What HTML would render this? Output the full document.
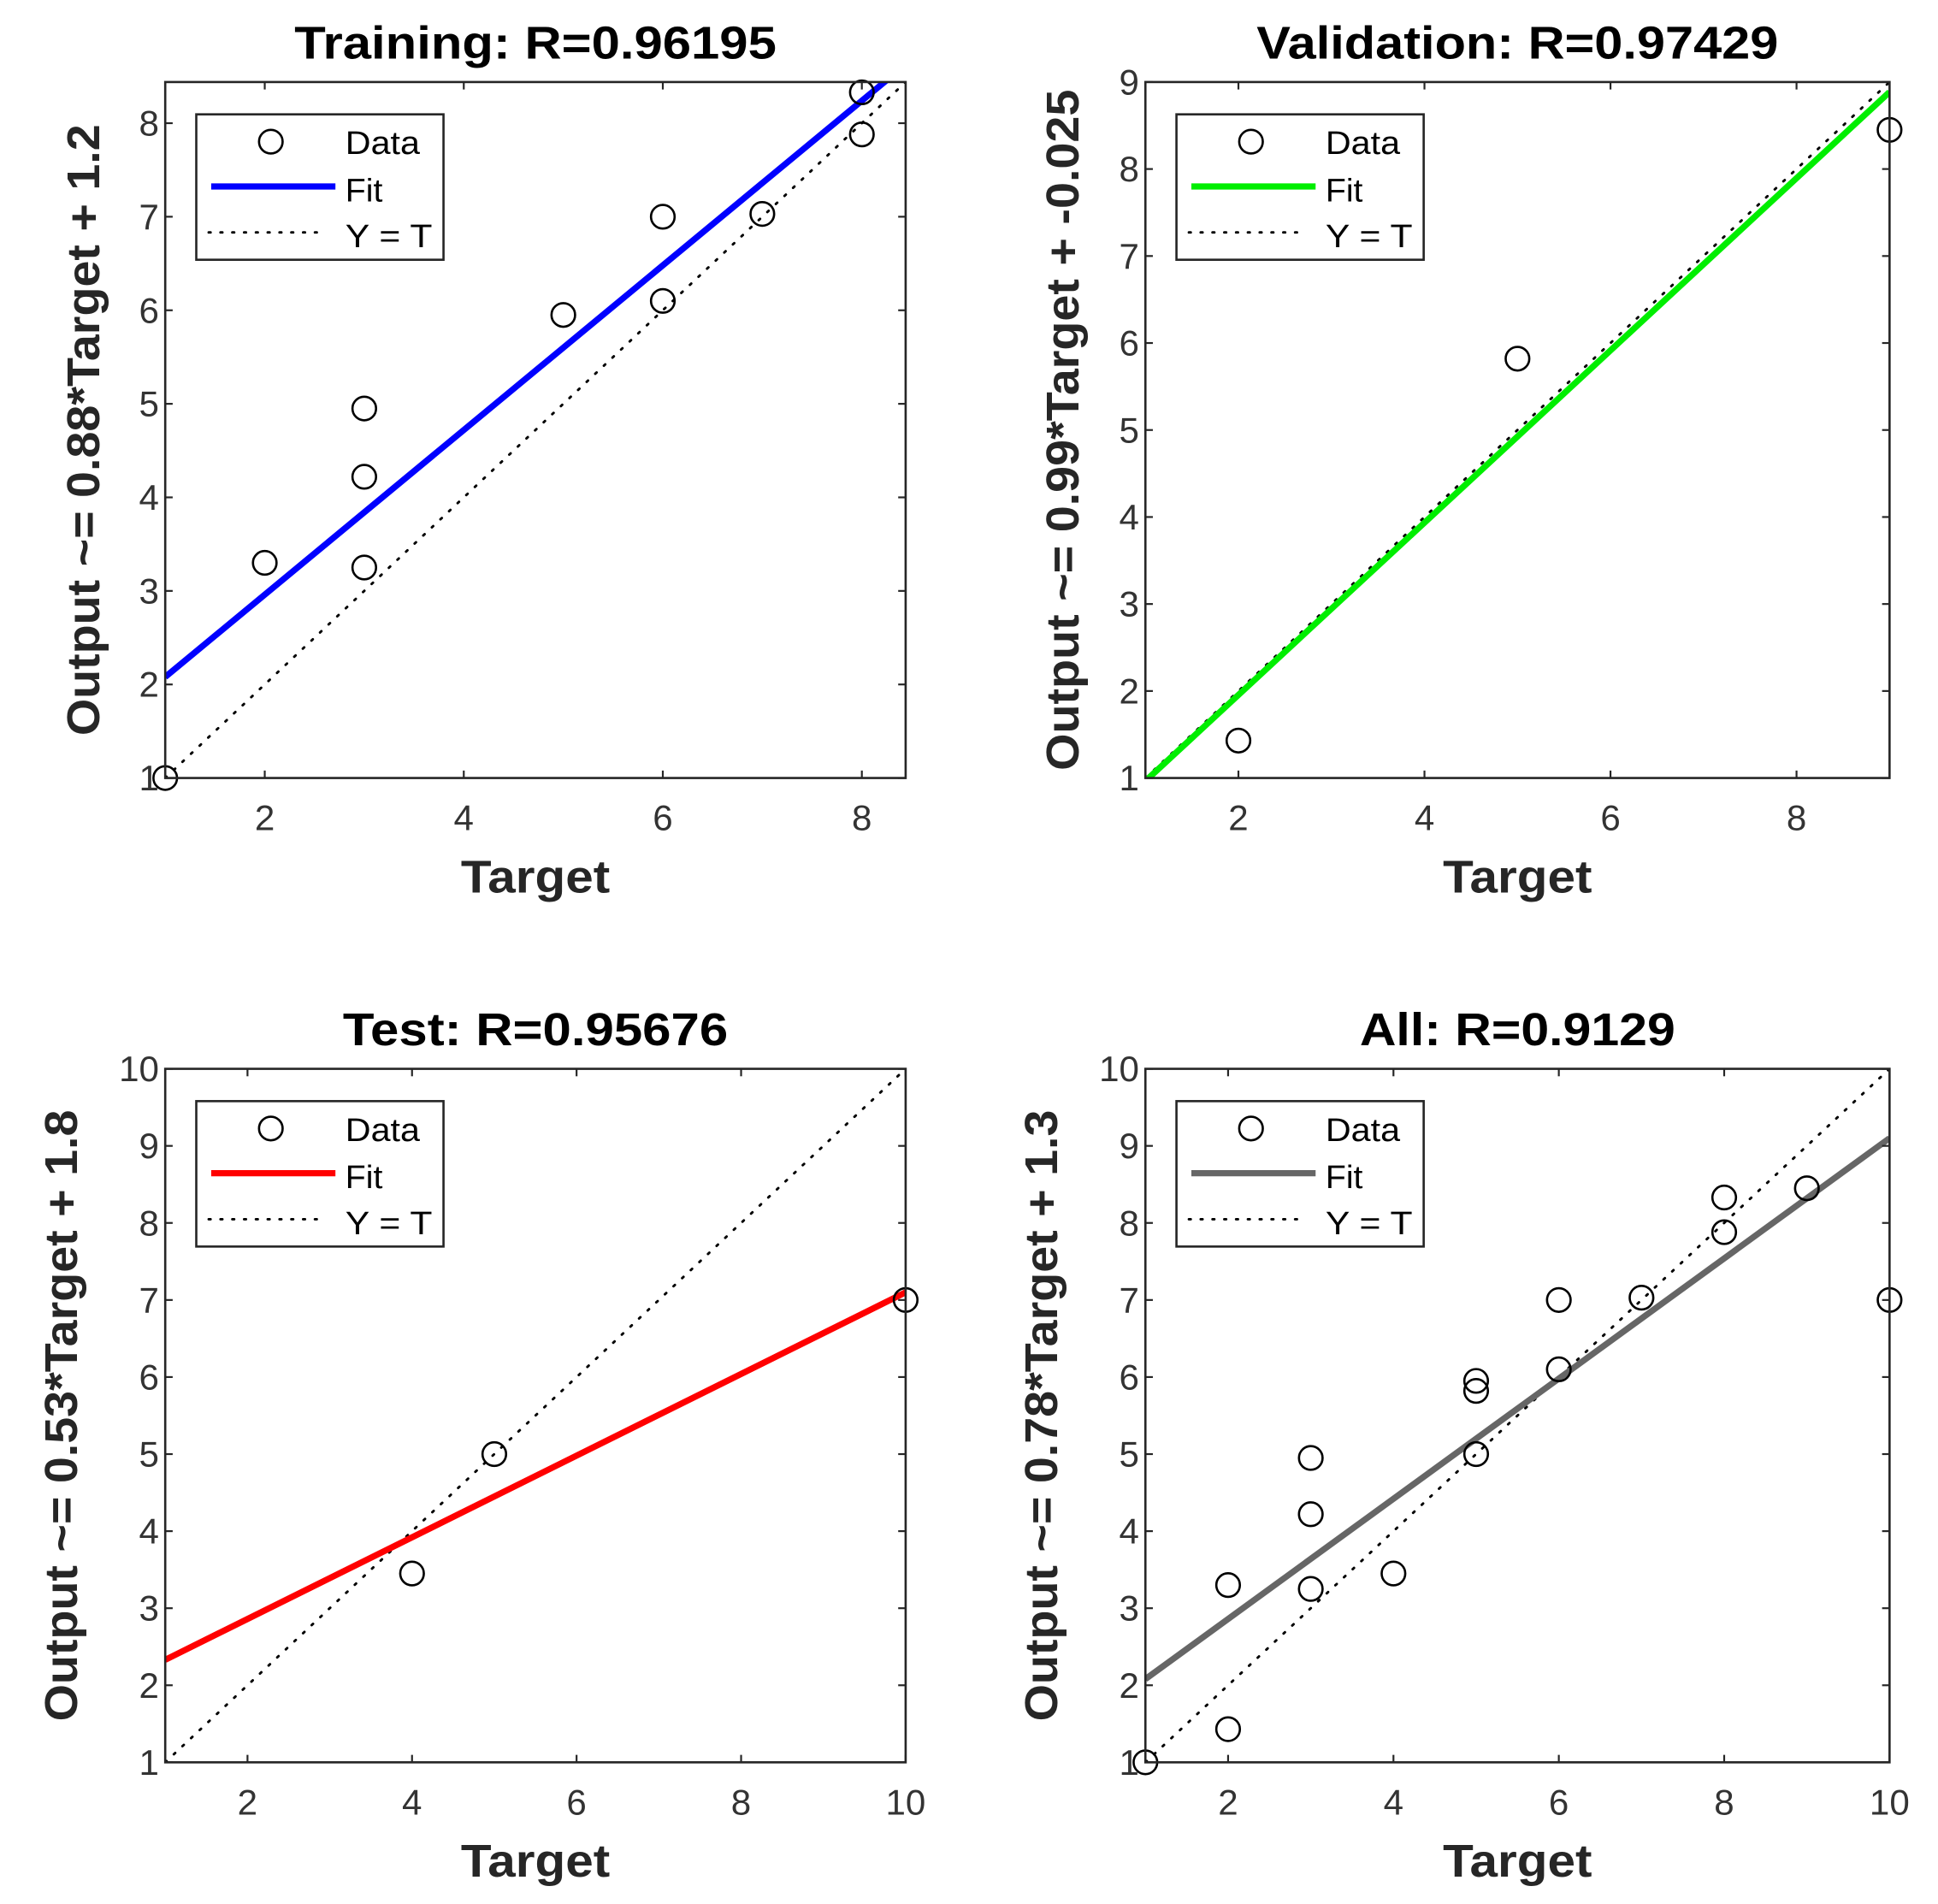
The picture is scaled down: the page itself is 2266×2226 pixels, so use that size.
<!DOCTYPE html>
<html><head><meta charset="utf-8"><style>
html,body{margin:0;padding:0;background:#fff;}
svg{display:block;}
text{font-family:"Liberation Sans",Arial,sans-serif;}
</style></head>
<body>
<svg id="fig" width="2266" height="2226" viewBox="0 0 1560 1532" preserveAspectRatio="none" xmlns="http://www.w3.org/2000/svg"></svg>
<script>
// ---- data ----
const trainX = [1,2,3,3,3,5,6,6,7,8,8];
const trainY = [1,3.3,4.95,4.22,3.25,5.95,7,6.1,7.03,8.33,7.88];
const trainFit = [0.88,1.2];
const valX = [2,5,9];
const valY = [1.43,5.82,8.45];
const valFit = [0.99,-0.025];
const testX = [4,5,10];
const testY = [3.45,5,7];
const testFit = [0.53,1.8];
const allX = [1,2,2,3,3,3,4,5,5,5,6,6,7,8,8,9,10];
const allY = [1,3.3,1.43,4.95,4.22,3.25,3.45,5.95,5.82,5.0,7,6.1,7.03,8.33,7.88,8.45,7];
const allFit = [0.78,1.3];
const ticks8 = [1,2,3,4,5,6,7,8];
const ticks9 = [1,2,3,4,5,6,7,8,9];
const ticks10 = [1,2,3,4,5,6,7,8,9,10];
const xt8 = [2,4,6,8];
const xt10 = [2,4,6,8,10];

const NS="http://www.w3.org/2000/svg";
const svg=document.getElementById('fig');
function mk(tag,attrs,parent){const e=document.createElementNS(NS,tag);for(const k in attrs)e.setAttribute(k,attrs[k]);(parent||svg).appendChild(e);return e;}

function panel(o){
  const g=mk('g',{});
  
  
  const L=o.box[0],T=o.box[1],R=o.box[2],B=o.box[3];
  const sx=v=>L+(v-o.min)/(o.max-o.min)*(R-L);
  const sy=v=>B-(v-o.min)/(o.max-o.min)*(B-T);
  const cid='clip-'+o.name;
  const cp=mk('clipPath',{id:cid},g);mk('rect',{x:L,y:T,width:R-L,height:B-T},cp);
  const yt=mk('line',{x1:sx(o.min),y1:sy(o.min),x2:sx(o.max),y2:sy(o.max),stroke:'#000','stroke-width':2,'stroke-dasharray':'1.5 8','stroke-linecap':'round','clip-path':'url(#'+cid+')'},g);
  
  
  const f=x=>o.fit[0]*x+o.fit[1];
  const fl=mk('line',{x1:sx(o.min),y1:sy(f(o.min)),x2:sx(o.max),y2:sy(f(o.max)),stroke:o.color,'stroke-width':5,'clip-path':'url(#'+cid+')'},g);
  
  
  for(let i=0;i<o.xs.length;i++){
    const c=mk('circle',{cx:sx(o.xs[i]),cy:sy(o.ys[i]),r:9.5,fill:'none',stroke:'#000','stroke-width':1.8},g);
    
    
  }
  const ax=mk('rect',{x:L,y:T,width:R-L,height:B-T,fill:'none',stroke:'#262626','stroke-width':1.8},g);
  
  
  o.yt.forEach(v=>{
    const y=sy(v);
    mk('line',{x1:L,y1:y,x2:L+6,y2:y,stroke:'#262626','stroke-width':1.5},g);
    mk('line',{x1:R,y1:y,x2:R-6,y2:y,stroke:'#262626','stroke-width':1.5},g);
    const t=mk('text',{x:L-5,y:y+10,'text-anchor':'end','font-size':29,fill:'#333'},g);t.textContent=v;
    
    
  });
  o.xt.forEach(v=>{
    const x=sx(v);
    mk('line',{x1:x,y1:B,x2:x,y2:B-6,stroke:'#262626','stroke-width':1.5},g);
    mk('line',{x1:x,y1:T,x2:x,y2:T+6,stroke:'#262626','stroke-width':1.5},g);
    const t=mk('text',{x:x,y:B+42,'text-anchor':'middle','font-size':29,fill:'#333'},g);t.textContent=v;
    
    
  });
  const cx=(L+R)/2;
  const ti=mk('text',{x:cx,y:T-19,'text-anchor':'middle','font-size':37,'font-weight':'bold',fill:'#000','textLength':o.tlen,'lengthAdjust':'spacingAndGlyphs'},g);ti.textContent=o.title;
  
  
  const xl=mk('text',{x:cx,y:B+92,'text-anchor':'middle','font-size':37,'font-weight':'bold',fill:'#262626','textLength':120,'lengthAdjust':'spacingAndGlyphs'},g);xl.textContent='Target';
  
  
  const yl=mk('text',{x:0,y:0,'text-anchor':'middle','font-size':37,'font-weight':'bold',fill:'#262626','textLength':o.ylen,'lengthAdjust':'spacingAndGlyphs',transform:'translate('+o.ylx+','+((T+B)/2)+') rotate(-90)'},g);yl.textContent=o.ylabel;
  
  
  const lg=mk('g',{transform:'translate('+(L+25)+','+(T+26)+')'},g);
  
  
  mk('rect',{x:0,y:0,width:199,height:117,fill:'#fff',stroke:'#262626','stroke-width':1.8},lg);
  mk('circle',{cx:60,cy:22,r:9.5,fill:'none',stroke:'#000','stroke-width':1.8},lg);
  mk('line',{x1:12,y1:58,x2:112,y2:58,stroke:o.color,'stroke-width':5},lg);
  mk('line',{x1:10,y1:95,x2:105,y2:95,stroke:'#000','stroke-width':2,'stroke-dasharray':'1.5 8','stroke-linecap':'round'},lg);
  [['Data',32,60],['Fit',70,30],['Y = T',107,70]].forEach(([s,y,w])=>{const t=mk('text',{x:120,y:y,'font-size':26,fill:'#000','textLength':w,'lengthAdjust':'spacingAndGlyphs'},lg);t.textContent=s;
    
    });
}
panel({name:'training',box:[133,66,729,626],min:1,max:8.44,xs:trainX,ys:trainY,fit:trainFit,color:'#0000ff',yt:ticks8,xt:xt8,title:'Training: R=0.96195',tlen:388,ylabel:'Output ~= 0.88*Target + 1.2',ylen:492,ylx:80});
panel({name:'validation',box:[922,66,1521,626],min:1,max:9,xs:valX,ys:valY,fit:valFit,color:'#00ee00',yt:ticks9,xt:xt8,title:'Validation: R=0.97429',tlen:420,ylabel:'Output ~= 0.99*Target + -0.025',ylen:548,ylx:868});
panel({name:'test',box:[133,860,729,1418],min:1,max:10,xs:testX,ys:testY,fit:testFit,color:'#ff0000',yt:ticks10,xt:xt10,title:'Test: R=0.95676',tlen:310,ylabel:'Output ~= 0.53*Target + 1.8',ylen:492,ylx:62});
panel({name:'all',box:[922,860,1521,1418],min:1,max:10,xs:allX,ys:allY,fit:allFit,color:'#666666',yt:ticks10,xt:xt10,title:'All: R=0.9129',tlen:254,ylabel:'Output ~= 0.78*Target + 1.3',ylen:492,ylx:851});
</script>
</body></html>
